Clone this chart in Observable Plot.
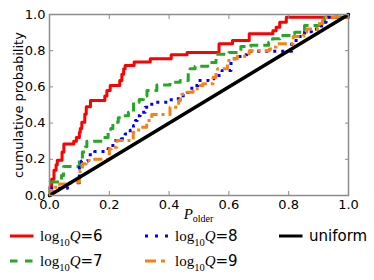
<!DOCTYPE html>
<html><head><meta charset="utf-8">
<script src="https://cdn.jsdelivr.net/npm/d3@7"></script>
<script src="https://cdn.jsdelivr.net/npm/@observablehq/plot@0.6"></script>
<style>
html,body{margin:0;padding:0;background:#fff;}
#wrap{width:374px;height:280px;position:relative;overflow:hidden;}
#wrap svg{display:block;}
</style></head><body>
<div id="wrap"></div>
<script>
// Empirical CDF step corners [P_older, cumulative probability]
const q6 = [[0,0],[0.002,0.05],[0.007,0.09],[0.015,0.14],[0.022,0.17],[0.026,0.195],[0.042,0.24],[0.048,0.285],[0.081,0.30],[0.09,0.32],[0.1,0.35],[0.103,0.37],[0.108,0.405],[0.118,0.45],[0.123,0.49],[0.137,0.525],[0.185,0.55],[0.192,0.58],[0.203,0.608],[0.235,0.635],[0.242,0.67],[0.248,0.70],[0.253,0.718],[0.283,0.737],[0.337,0.755],[0.407,0.777],[0.46,0.79],[0.567,0.838],[0.612,0.856],[0.668,0.893],[0.747,0.91],[0.758,0.93],[0.77,0.957],[0.792,0.985],[1,1]];
const q7 = [[0,0],[0.002,0.075],[0.04,0.11],[0.047,0.16],[0.1,0.2],[0.11,0.24],[0.12,0.27],[0.125,0.3],[0.18,0.32],[0.196,0.35],[0.205,0.37],[0.212,0.405],[0.23,0.43],[0.248,0.44],[0.264,0.46],[0.281,0.515],[0.3,0.53],[0.314,0.55],[0.326,0.58],[0.359,0.61],[0.403,0.626],[0.437,0.635],[0.464,0.68],[0.47,0.70],[0.487,0.714],[0.529,0.735],[0.557,0.78],[0.6,0.79],[0.64,0.823],[0.673,0.83],[0.733,0.847],[0.746,0.866],[0.77,0.884],[0.813,0.895],[0.82,0.902],[0.853,0.939],[0.903,0.957],[0.92,0.985],[1,1]];
const q8 = [[0,0],[0.003,0.04],[0.06,0.07],[0.1,0.156],[0.107,0.19],[0.129,0.225],[0.151,0.243],[0.196,0.26],[0.212,0.304],[0.24,0.313],[0.253,0.34],[0.27,0.36],[0.281,0.387],[0.287,0.414],[0.293,0.44],[0.303,0.46],[0.32,0.488],[0.342,0.515],[0.397,0.529],[0.423,0.534],[0.447,0.552],[0.463,0.58],[0.476,0.608],[0.497,0.635],[0.53,0.645],[0.55,0.663],[0.577,0.69],[0.607,0.755],[0.637,0.777],[0.66,0.797],[0.81,0.856],[0.83,0.878],[0.853,0.905],[0.876,0.92],[0.91,0.957],[0.925,0.985],[1,1]];
const q9 = [[0,0],[0.003,0.028],[0.012,0.046],[0.034,0.064],[0.06,0.073],[0.1,0.1],[0.102,0.138],[0.11,0.175],[0.123,0.193],[0.145,0.2],[0.2,0.258],[0.207,0.267],[0.225,0.304],[0.28,0.35],[0.298,0.377],[0.325,0.414],[0.342,0.447],[0.403,0.488],[0.432,0.525],[0.438,0.543],[0.443,0.56],[0.459,0.57],[0.48,0.59],[0.5,0.608],[0.513,0.617],[0.547,0.654],[0.557,0.68],[0.562,0.70],[0.595,0.737],[0.6,0.755],[0.628,0.77],[0.66,0.783],[0.668,0.8],[0.735,0.81],[0.746,0.82],[0.758,0.838],[0.815,0.878],[0.85,0.902],[0.86,0.92],[0.903,0.949],[0.913,0.967],[0.926,0.985],[1,1]];
const uniform = [[0,0],[1,1]];
const tickValues = [0, 0.2, 0.4, 0.6, 0.8, 1.0];
const legendLabels = ["6", "7", "8", "9", "uniform"];

const styles = [
  {data:q6, stroke:"#ff0000", dash:null},
  {data:q7, stroke:"#22aa22", dash:"9,5"},
  {data:q8, stroke:"#0000ff", dash:"3,5"},
  {data:q9, stroke:"#ff7f0e", dash:"9,4,3,4"}
];

const X = d => d[0], Y = d => d[1];
const chart = Plot.plot({
  width: 374, height: 226,
  marginLeft: 49, marginRight: 26, marginTop: 14, marginBottom: 31,
  style: {fontFamily: "DejaVu Sans", fontSize: "13px", background: "white", color: "black"},
  x: {domain: [0, 1], label: null},
  y: {domain: [0, 1], label: null},
  marks: [
    ...styles.map(s => Plot.line(s.data, {x: X, y: Y, curve: "step-after", stroke: s.stroke, strokeWidth: 3, strokeDasharray: s.dash, strokeLinecap: "butt"})),
    Plot.line(uniform, {x: X, y: Y, stroke: "black", strokeWidth: 3.5}),
    Plot.frame({stroke: "#8c8c8c", strokeWidth: 1.5}),
    Plot.axisX({anchor: "bottom", ticks: tickValues, tickSize: 0, tickPadding: 4, tickFormat: d3.format(".1f"), label: null}),
    Plot.axisY({anchor: "left", ticks: tickValues, tickSize: 0, tickPadding: 4, tickFormat: d3.format(".1f"), label: null}),
    Plot.axisX({anchor: "bottom", ticks: tickValues, tickSize: -4, stroke: "#8c8c8c", tickFormat: () => "", label: null}),
    Plot.axisX({anchor: "top", ticks: tickValues, tickSize: -4, stroke: "#8c8c8c", tickFormat: () => "", label: null}),
    Plot.axisY({anchor: "left", ticks: tickValues, tickSize: -4, stroke: "#8c8c8c", tickFormat: () => "", label: null}),
    Plot.axisY({anchor: "right", ticks: tickValues, tickSize: -4, stroke: "#8c8c8c", tickFormat: () => "", label: null}),
    Plot.text(["cumulative probability"], {frameAnchor: "left", textAnchor: "middle", rotate: -90, dx: -31, fontSize: 13, fill: "black"})
  ]
});
document.getElementById("wrap").appendChild(chart);

// x-axis label P_older
const sv = d3.select(chart);
const xl = sv.append("text").attr("x", 198.5).attr("y", 219).attr("text-anchor", "middle")
  .attr("font-family", "Liberation Serif").attr("font-size", 15).attr("fill", "black");
xl.append("tspan").attr("font-style", "italic").text("P");
xl.append("tspan").attr("font-size", 10).attr("dy", 3).text("older");

// legend below the chart
const leg = d3.select("#wrap").append("svg").attr("width", 374).attr("height", 54);
const legendItems = [
  {x: 10, row: 0, stroke: "#ff0000", dash: null, label: legendLabels[0]},
  {x: 10, row: 1, stroke: "#22aa22", dash: "7.5,7.5", label: legendLabels[1]},
  {x: 145, row: 0, stroke: "#0000ff", dash: "3,7", label: legendLabels[2]},
  {x: 145, row: 1, stroke: "#ff7f0e", dash: "11,5,4,5", label: legendLabels[3]},
  {x: 279, row: 0, stroke: "black", dash: null, label: legendLabels[4]}
];
legendItems.forEach(it => {
  const ly = it.row === 0 ? 10 : 35;
  const by = it.row === 0 ? 14.5 : 39.5;
  leg.append("line").attr("x1", it.x).attr("x2", it.x + 23.5).attr("y1", ly).attr("y2", ly)
    .attr("stroke", it.stroke).attr("stroke-width", 3).attr("stroke-dasharray", it.dash);
  const t = leg.append("text").attr("x", it.x + 30).attr("y", by).attr("font-size", 15).attr("fill", "black");
  if (it.label === "uniform") {
    t.attr("font-family", "DejaVu Sans").text("uniform");
  } else {
    t.append("tspan").attr("font-family", "Liberation Serif").text("log");
    t.append("tspan").attr("font-family", "Liberation Serif").attr("font-size", 10.5).attr("dy", 5).text("10");
    t.append("tspan").attr("font-family", "Liberation Serif").attr("font-style", "italic").attr("dy", -5).text("Q");
    t.append("tspan").attr("font-family", "DejaVu Sans").text("=" + it.label);
  }
});
</script>
</body></html>
